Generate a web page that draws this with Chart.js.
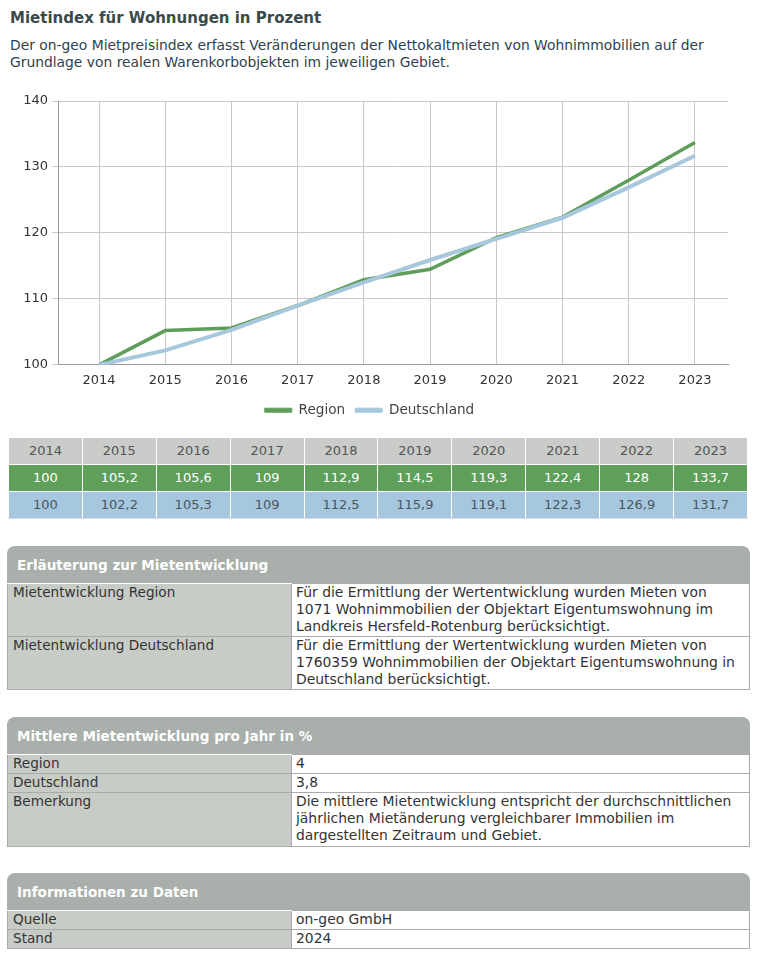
<!DOCTYPE html>
<html><head><meta charset="utf-8">
<script src="https://cdn.jsdelivr.net/npm/chart.js@4"></script>
<style>
body{margin:0;background:#fff;font-family:"DejaVu Sans",Verdana,sans-serif;width:776px;height:960px;position:relative;overflow:hidden}
#title{position:absolute;left:10px;top:9px;font-weight:bold;font-size:15px;line-height:18px;color:#3b4a4b;margin:0}
#desc{position:absolute;left:10px;top:37px;font-size:13.85px;line-height:17px;color:#2e3f4e;margin:0}
#chartbox{position:absolute;left:0;top:88px;width:760px;height:340px}
#dt{position:absolute;left:8px;top:438px;width:740px;border-collapse:collapse;table-layout:fixed;font-size:13px}
#dt td{text-align:center;height:26px;border:1px solid #fff;padding:0;line-height:26px}
#dt tr.h td{background:#c9ccc8;color:#555;border-top:none}
#dt tr.r td{background:#5e9f59;color:#fff}
#dt tr.d td{background:#a6c7dd;color:#4a5662;border-bottom:1px solid #d5e2ec}
.sec{position:absolute;left:7px;width:743px}
.sec .hd{height:37px;background:#a9afab;border-radius:8px 8px 0 0;color:#fff;font-weight:bold;font-size:13.55px;line-height:38px;padding-left:10px}
.sec table{width:743px;border-collapse:collapse;table-layout:fixed;font-size:13.9px;line-height:17px;color:#333}
.sec td{vertical-align:top;padding:0}
.sec td.l{width:278px;background:#c8ccc7;padding-left:5px;border-left:1px solid #aaa;border-top:1px solid #fff;border-bottom:1px solid #aaa;font-size:13.6px}
.sec td.v{background:#fff;padding-left:4px;border:1px solid #aaa}
</style></head>
<body>
<h3 id="title">Mietindex für Wohnungen in Prozent</h3>
<p id="desc">Der on-geo Mietpreisindex erfasst Veränderungen der Nettokaltmieten von Wohnimmobilien auf der<br>Grundlage von realen Warenkorbobjekten im jeweiligen Gebiet.</p>
<div id="chartbox"><canvas id="c" width="760" height="339"></canvas></div>
<table id="dt"><tbody id="dtb"></tbody></table>

<div class="sec" style="top:546px">
<div class="hd">Erläuterung zur Mietentwicklung</div>
<table>
<tr style="height:53px"><td class="l">Mietentwicklung Region</td><td class="v">Für die Ermittlung der Wertentwicklung wurden Mieten von<br>1071 Wohnimmobilien der Objektart Eigentumswohnung im<br>Landkreis Hersfeld-Rotenburg berücksichtigt.</td></tr>
<tr style="height:53px"><td class="l">Mietentwicklung Deutschland</td><td class="v">Für die Ermittlung der Wertentwicklung wurden Mieten von<br>1760359 Wohnimmobilien der Objektart Eigentumswohnung in<br>Deutschland berücksichtigt.</td></tr>
</table></div>

<div class="sec" style="top:717px">
<div class="hd">Mittlere Mietentwicklung pro Jahr in %</div>
<table>
<tr style="height:19px"><td class="l">Region</td><td class="v">4</td></tr>
<tr style="height:19px"><td class="l">Deutschland</td><td class="v">3,8</td></tr>
<tr style="height:54px"><td class="l">Bemerkung</td><td class="v">Die mittlere Mietentwicklung entspricht der durchschnittlichen<br>jährlichen Mietänderung vergleichbarer Immobilien im<br>dargestellten Zeitraum und Gebiet.</td></tr>
</table></div>

<div class="sec" style="top:873px">
<div class="hd">Informationen zu Daten</div>
<table>
<tr style="height:19px"><td class="l">Quelle</td><td class="v">on-geo GmbH</td></tr>
<tr style="height:19px"><td class="l">Stand</td><td class="v">2024</td></tr>
</table></div>

<script>
const years=[2014,2015,2016,2017,2018,2019,2020,2021,2022,2023];
const region=[100,105.2,105.6,109,112.9,114.5,119.3,122.4,128,133.7];
const deutschland=[100,102.2,105.3,109,112.5,115.9,119.1,122.3,126.9,131.7];
const yTicks=[100,110,120,130,140];
const seriesNames=['Region','Deutschland'];
const seriesColors=['#5f9e5a','#a6c7dc'];

const fmt=v=>String(v).replace('.',',');
const tb=document.getElementById('dtb');
function addRow(cls,vals){const tr=document.createElement('tr');tr.className=cls;vals.forEach(v=>{const td=document.createElement('td');td.textContent=v;tr.appendChild(td);});tb.appendChild(tr);}
addRow('h',years.map(String));
addRow('r',region.map(fmt));
addRow('d',deutschland.map(fmt));

const FF="'DejaVu Sans', Verdana, sans-serif";
Chart.defaults.font.family=FF;
new Chart(document.getElementById('c'),{
  type:'line',
  data:{datasets:[
    {label:seriesNames[0],data:years.map((y,i)=>({x:y,y:region[i]})),borderColor:seriesColors[0],backgroundColor:seriesColors[0],borderWidth:3.5,pointRadius:0,tension:0,order:1},
    {label:seriesNames[1],data:years.map((y,i)=>({x:y,y:deutschland[i]})),borderColor:seriesColors[1],backgroundColor:seriesColors[1],borderWidth:4,pointRadius:0,tension:0,order:0}
  ]},
  options:{
    responsive:false,animation:false,devicePixelRatio:1,
    layout:{padding:{left:11,right:32,top:13,bottom:0}},
    scales:{
      x:{type:'linear',min:2013.38,max:2023.5,
        afterBuildTicks:s=>{s.ticks=years.map(v=>({value:v}));},
        afterFit:s=>{s.height=28.5;},
        ticks:{callback:v=>String(v),font:{size:13},color:'#333',padding:8,autoSkip:false,maxRotation:0},
        grid:{color:'#c8c8c8',drawTicks:false,lineWidth:1},
        border:{color:'#999'}},
      y:{min:100,max:140,
        afterBuildTicks:s=>{s.ticks=yTicks.map(v=>({value:v}));},
        afterFit:s=>{s.width=47;},
        ticks:{font:{size:13},color:'#333',padding:4},
        grid:{color:'#c8c8c8',tickLength:6,lineWidth:1},
        border:{color:'#999'}}
    },
    plugins:{
      tooltip:{enabled:false},
      legend:{position:'bottom',
        labels:{boxWidth:27,boxHeight:4,font:{size:13.6},color:'#444',padding:10,
          sort:(a,b)=>a.datasetIndex-b.datasetIndex,
          generateLabels:c=>Chart.defaults.plugins.legend.labels.generateLabels(c).map(l=>({...l,lineWidth:1,strokeStyle:l.fillStyle}))}}
    }
  }
});
</script>
</body></html>
